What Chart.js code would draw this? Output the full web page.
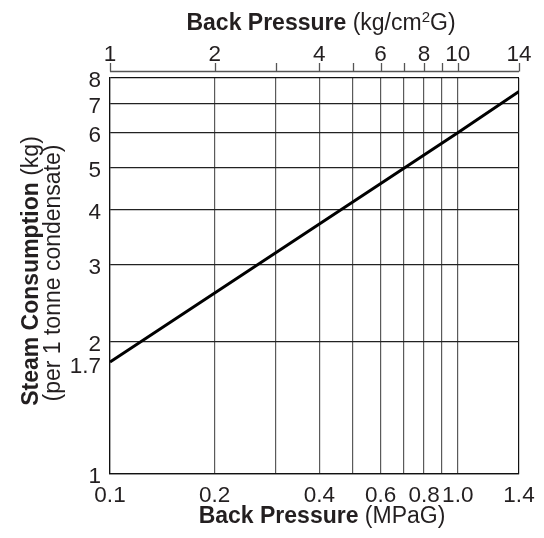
<!DOCTYPE html>
<html>
<head>
<meta charset="utf-8">
<script src="https://cdn.jsdelivr.net/npm/chart.js@4.4.1/dist/chart.umd.min.js"></script>
<style>
  html, body { margin: 0; padding: 0; background: #fff; }
  #wrap { width: 544px; height: 538px; }
</style>
</head>
<body>
<div id="wrap"><canvas id="chart"></canvas></div>
<script>
// values (log-log chart, straight line)
const pressureMPa = [0.1, 1.0, 1.5];
const steamKg = [1.8, 6.0, 7.45];

// bottom axis (MPaG); the printed right edge "1.4" sits where 1.5 would fall
const xTicks = [0.1, 0.2, 0.3, 0.4, 0.5, 0.6, 0.7, 0.8, 0.9, 1.0, 1.5];
const xTickLabels = ['0.1', '0.2', '', '0.4', '', '0.6', '', '0.8', '', '1.0', '1.4'];
// top axis (kg/cm2G) = MPaG x 10
const topTicks = [1, 2, 3, 4, 5, 6, 7, 8, 9, 10, 15];
const topTickLabels = ['1', '2', '', '4', '', '6', '', '8', '', '10', '14'];
// left axis
const yTicks = [1, 1.78, 2, 3, 4, 5, 6, 7, 8];
const yTickLabels = ['1', '1.7', '2', '3', '4', '5', '6', '7', '8'];

const FONT = '"Liberation Sans", Arial, Helvetica, sans-serif';
const TEXT = '#231f20';
Chart.defaults.font.family = FONT;
Chart.defaults.color = TEXT;

function drawParts(ctx, parts, x, y, rot) {
  ctx.save();
  ctx.translate(x, y);
  ctx.rotate(rot);
  let total = 0;
  parts.forEach(p => { ctx.font = p.font; p.w = ctx.measureText(p.text).width; total += p.w; });
  let cx = -total / 2;
  ctx.textAlign = 'left';
  ctx.textBaseline = 'alphabetic';
  ctx.fillStyle = TEXT;
  parts.forEach(p => { ctx.font = p.font; ctx.fillText(p.text, cx, p.dy || 0); cx += p.w; });
  ctx.restore();
}

const bold = 'bold 23px ' + FONT;
const reg = '23px ' + FONT;

const decor = {
  id: 'decor',
  afterDraw(chart) {
    const ctx = chart.ctx;
    const ca = chart.chartArea;
    const top = chart.scales.x2;

    // detached top axis line with tick marks
    const ay = ca.top - 7;
    const x0 = top.getPixelForValue(topTicks[0]);
    const x1 = top.getPixelForValue(topTicks[topTicks.length - 1]);
    ctx.save();
    ctx.strokeStyle = '#555';
    ctx.lineWidth = 1.3;
    ctx.beginPath();
    ctx.moveTo(x0, ay + 0.5);
    ctx.lineTo(x1, ay + 0.5);
    topTicks.forEach(v => {
      const px = Math.round(top.getPixelForValue(v)) + 0.5;
      ctx.moveTo(px, ay + 0.5);
      ctx.lineTo(px, ay - 8);
    });
    ctx.stroke();
    ctx.restore();

    // titles
    drawParts(ctx, [
      { text: 'Back Pressure', font: bold },
      { text: ' (kg/cm', font: reg },
      { text: '2', font: '15px ' + FONT, dy: -8 },
      { text: 'G)', font: reg }
    ], 321, 30, 0);
    drawParts(ctx, [
      { text: 'Back Pressure', font: bold },
      { text: ' (MPaG)', font: reg }
    ], 322, 523, 0);
    drawParts(ctx, [
      { text: 'Steam Consumption', font: bold },
      { text: ' (kg)', font: reg }
    ], 38, 271, -Math.PI / 2);
    drawParts(ctx, [
      { text: '(per 1 tonne condensate)', font: reg }
    ], 60, 273, -Math.PI / 2);
  }
};

new Chart(document.getElementById('chart'), {
  type: 'scatter',
  data: {
    datasets: [{
      data: pressureMPa.map((p, i) => ({ x: p, y: steamKg[i] })),
      showLine: true,
      borderColor: '#000',
      borderWidth: 3,
      pointRadius: 0,
      tension: 0
    }]
  },
  options: {
    responsive: true,
    maintainAspectRatio: false,
    animation: false,
    layout: { padding: { left: 0, right: 25, top: 0, bottom: 0 } },
    plugins: { legend: { display: false }, tooltip: { enabled: false } },
    scales: {
      x: {
        type: 'logarithmic',
        position: 'bottom',
        min: xTicks[0],
        max: xTicks[xTicks.length - 1],
        afterBuildTicks: s => { s.ticks = xTicks.map(v => ({ value: v })); },
        afterFit: s => { s.height = 64; },
        ticks: {
          autoSkip: false,
          maxRotation: 0,
          padding: 8,
          font: { size: 22.5 },
          callback: (v, i) => xTickLabels[i]
        },
        grid: {
          drawTicks: false,
          lineWidth: 1.2,
          color: c => (c.index === 0 || c.index === xTicks.length - 1) ? '#111' : '#5a5a5a'
        },
        border: { color: '#111', width: 1.2 }
      },
      x2: {
        type: 'logarithmic',
        position: 'top',
        min: topTicks[0],
        max: topTicks[topTicks.length - 1],
        afterBuildTicks: s => { s.ticks = topTicks.map(v => ({ value: v })); },
        afterFit: s => { s.height = 78; },
        ticks: {
          autoSkip: false,
          maxRotation: 0,
          padding: 10,
          font: { size: 22.5 },
          callback: (v, i) => topTickLabels[i]
        },
        grid: { display: false, drawTicks: false },
        border: { display: false }
      },
      y: {
        type: 'logarithmic',
        min: yTicks[0],
        max: yTicks[yTicks.length - 1],
        afterBuildTicks: s => { s.ticks = yTicks.map(v => ({ value: v })); },
        afterFit: s => { s.width = 110; },
        ticks: {
          autoSkip: false,
          padding: 9,
          labelOffset: 3,
          font: { size: 22.5 },
          callback: (v, i) => yTickLabels[i]
        },
        grid: {
          drawTicks: false,
          lineWidth: 1.2,
          color: c => {
            const v = yTicks[c.index];
            if (v === 1.78) return 'rgba(0,0,0,0)';
            if (c.index === 0 || c.index === yTicks.length - 1) return '#111';
            return '#222';
          }
        },
        border: { color: '#111', width: 1.2 }
      }
    }
  },
  plugins: [decor]
});
</script>
</body>
</html>
